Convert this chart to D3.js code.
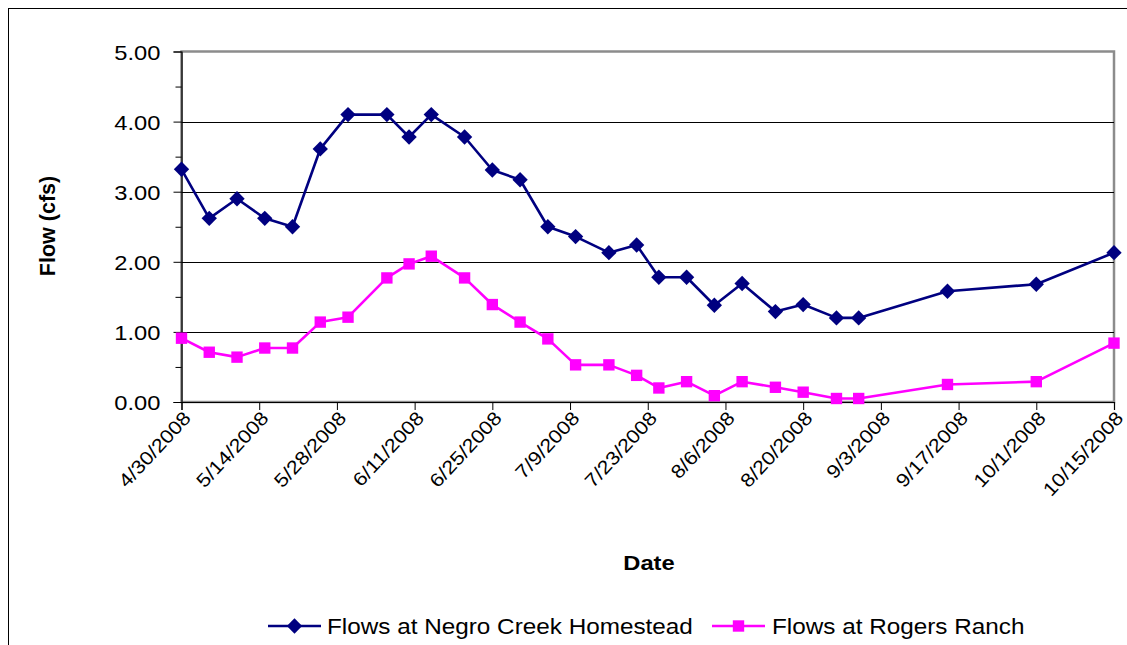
<!DOCTYPE html>
<html>
<head>
<meta charset="utf-8">
<script src="https://cdn.jsdelivr.net/npm/d3@7"></script>
<style>
  html, body { margin: 0; padding: 0; background: #fff; }
  svg { display: block; }
  text { font-family: "Liberation Sans", Arial, sans-serif; fill: #000; }
</style>
</head>
<body>
<svg id="chart" width="1127" height="645"></svg>
<script>
// Sampling dates (M/D/YYYY)
const dates = ["4/30/2008","5/5/2008","5/10/2008","5/15/2008","5/20/2008","5/25/2008","5/30/2008",
  "6/6/2008","6/10/2008","6/14/2008","6/20/2008","6/25/2008","6/30/2008","7/5/2008","7/10/2008",
  "7/16/2008","7/21/2008","7/25/2008","7/30/2008","8/4/2008","8/9/2008","8/15/2008","8/20/2008",
  "8/26/2008","8/30/2008","9/15/2008","10/1/2008","10/15/2008"];

// Flow (cfs) at each site
const negroCreek = [3.32,2.62,2.90,2.62,2.50,3.61,4.10,4.10,3.78,4.10,3.78,3.31,3.17,2.50,2.36,
  2.13,2.24,1.78,1.78,1.38,1.69,1.29,1.39,1.20,1.20,1.58,1.68,2.13];
const rogersRanch = [0.91,0.71,0.64,0.77,0.77,1.14,1.21,1.77,1.97,2.08,1.77,1.39,1.14,0.90,0.53,
  0.53,0.38,0.20,0.29,0.09,0.29,0.21,0.14,0.05,0.05,0.25,0.29,0.84];

// Axis tick labels
const xTickLabels = ["4/30/2008","5/14/2008","5/28/2008","6/11/2008","6/25/2008","7/9/2008",
  "7/23/2008","8/6/2008","8/20/2008","9/3/2008","9/17/2008","10/1/2008","10/15/2008"];
const yTicks = [0,1,2,3,4,5];
const yMinorTicks = [0.5,1.5,2.5,3.5,4.5];

const seriesNames = ["Flows at Negro Creek Homestead", "Flows at Rogers Ranch"];
const seriesColors = ["#000080", "#FF00FF"];

const parse = d3.timeParse("%m/%d/%Y");
const fmtTick = d => (d.getMonth()+1) + "/" + d.getDate() + "/" + d.getFullYear();

const svg = d3.select("#chart");
const W = 1127, H = 645;
const SX = 1.13; // glyph widening along the baseline

const plot = {left: 181.5, right: 1114, top: 51.5, bottom: 402};

const x = d3.scaleTime()
  .domain([parse(xTickLabels[0]), parse(xTickLabels[xTickLabels.length-1])])
  .range([plot.left, plot.right]);
const y = d3.scaleLinear().domain([0, 5]).range([plot.bottom, plot.top]);

// outer chart frame
svg.append("rect").attr("x", 8.5).attr("y", 8.5).attr("width", W + 20).attr("height", H + 20)
  .attr("fill", "#fff").attr("stroke", "#000").attr("stroke-width", 1);

// plot area
svg.append("rect").attr("x", plot.left).attr("y", plot.top)
  .attr("width", plot.right - plot.left).attr("height", plot.bottom - plot.top)
  .attr("fill", "#fff").attr("stroke", "#8c8c8c").attr("stroke-width", 2.5);

// gridlines
svg.append("g").selectAll("line").data(yTicks.filter(v => v > 0 && v < 5)).join("line")
  .attr("x1", plot.left).attr("x2", plot.right)
  .attr("y1", d => Math.round(y(d)) + 0.5).attr("y2", d => Math.round(y(d)) + 0.5)
  .attr("stroke", "#000").attr("stroke-width", 1);

// y axis
const yAxis = d3.axisLeft(y).tickValues(yTicks).tickSize(8).tickFormat(d3.format(".2f"));
const gy = svg.append("g").attr("transform", `translate(${plot.left},0)`).call(yAxis);
gy.attr("font-size", null).attr("font-family", null);
gy.select(".domain").attr("stroke", "#000").attr("stroke-width", 1.2);
gy.selectAll(".tick line").attr("stroke", "#000");
gy.selectAll(".tick text")
  .attr("x", 0).attr("dy", "0.36em")
  .attr("text-anchor", "end")
  .attr("font-size", 21)
  .attr("transform", `translate(-21,0) scale(${SX},1)`);
const yMinor = d3.axisLeft(y).tickValues(yMinorTicks).tickSize(6).tickFormat("");
const gym = svg.append("g").attr("transform", `translate(${plot.left},0)`).call(yMinor);
gym.select(".domain").remove();
gym.selectAll(".tick line").attr("stroke", "#000");

// x axis
const xTickDates = xTickLabels.map(parse);
const xAxis = d3.axisBottom(x).tickValues(xTickDates).tickSize(8).tickFormat(fmtTick);
const gx = svg.append("g").attr("transform", `translate(0,${plot.bottom})`).call(xAxis);
gx.attr("font-size", null).attr("font-family", null);
gx.select(".domain").attr("stroke", "#000").attr("stroke-width", 1.2);
gx.selectAll(".tick line").attr("stroke", "#000");
gx.selectAll(".tick text")
  .attr("y", 0).attr("dy", 0).attr("x", 0)
  .attr("text-anchor", "end")
  .attr("font-size", 19)
  .attr("transform", `translate(10,17) rotate(-47) scale(${SX},1)`);

// series
const series = [negroCreek, rogersRanch].map((vals, i) => ({
  name: seriesNames[i], color: seriesColors[i],
  points: vals.map((v, j) => ({date: parse(dates[j]), value: v}))
}));

const line = d3.line().x(d => x(d.date)).y(d => y(d.value));
const diamond = d3.symbol().type(d3.symbolDiamond2).size(150);
const square = d3.symbol().type(d3.symbolSquare2).size(165);

series.forEach((s, i) => {
  const g = svg.append("g");
  g.append("path").datum(s.points).attr("d", line)
    .attr("fill", "none").attr("stroke", s.color).attr("stroke-width", 2.6)
    .attr("stroke-linejoin", "round");
  g.selectAll("path.pt").data(s.points).join("path").attr("class", "pt")
    .attr("d", i === 0 ? diamond : square)
    .attr("transform", d => `translate(${x(d.date)},${y(d.value)})`)
    .attr("fill", s.color);
});

// axis titles
svg.append("text").attr("transform", `translate(55,226) rotate(-90)`)
  .attr("text-anchor", "middle").attr("font-size", 21.5).attr("font-weight", "bold")
  .text("Flow (cfs)");
svg.append("text").attr("transform", `translate(649,570) scale(${SX},1)`)
  .attr("text-anchor", "middle").attr("font-size", 21).attr("font-weight", "bold")
  .text("Date");

// legend
const legendItems = [
  {x0: 268, tx: 327},
  {x0: 712, tx: 772}
];
series.forEach((s, i) => {
  const it = legendItems[i];
  const g = svg.append("g");
  g.append("line").attr("x1", it.x0).attr("x2", it.x0 + 53).attr("y1", 626).attr("y2", 626)
    .attr("stroke", s.color).attr("stroke-width", 2.6);
  g.append("path").attr("d", i === 0 ? diamond : square)
    .attr("transform", `translate(${it.x0 + 26.5},626)`).attr("fill", s.color);
  g.append("text").attr("transform", `translate(${it.tx},634) scale(${SX},1)`)
    .attr("font-size", 21.5).text(s.name);
});
</script>
</body>
</html>
